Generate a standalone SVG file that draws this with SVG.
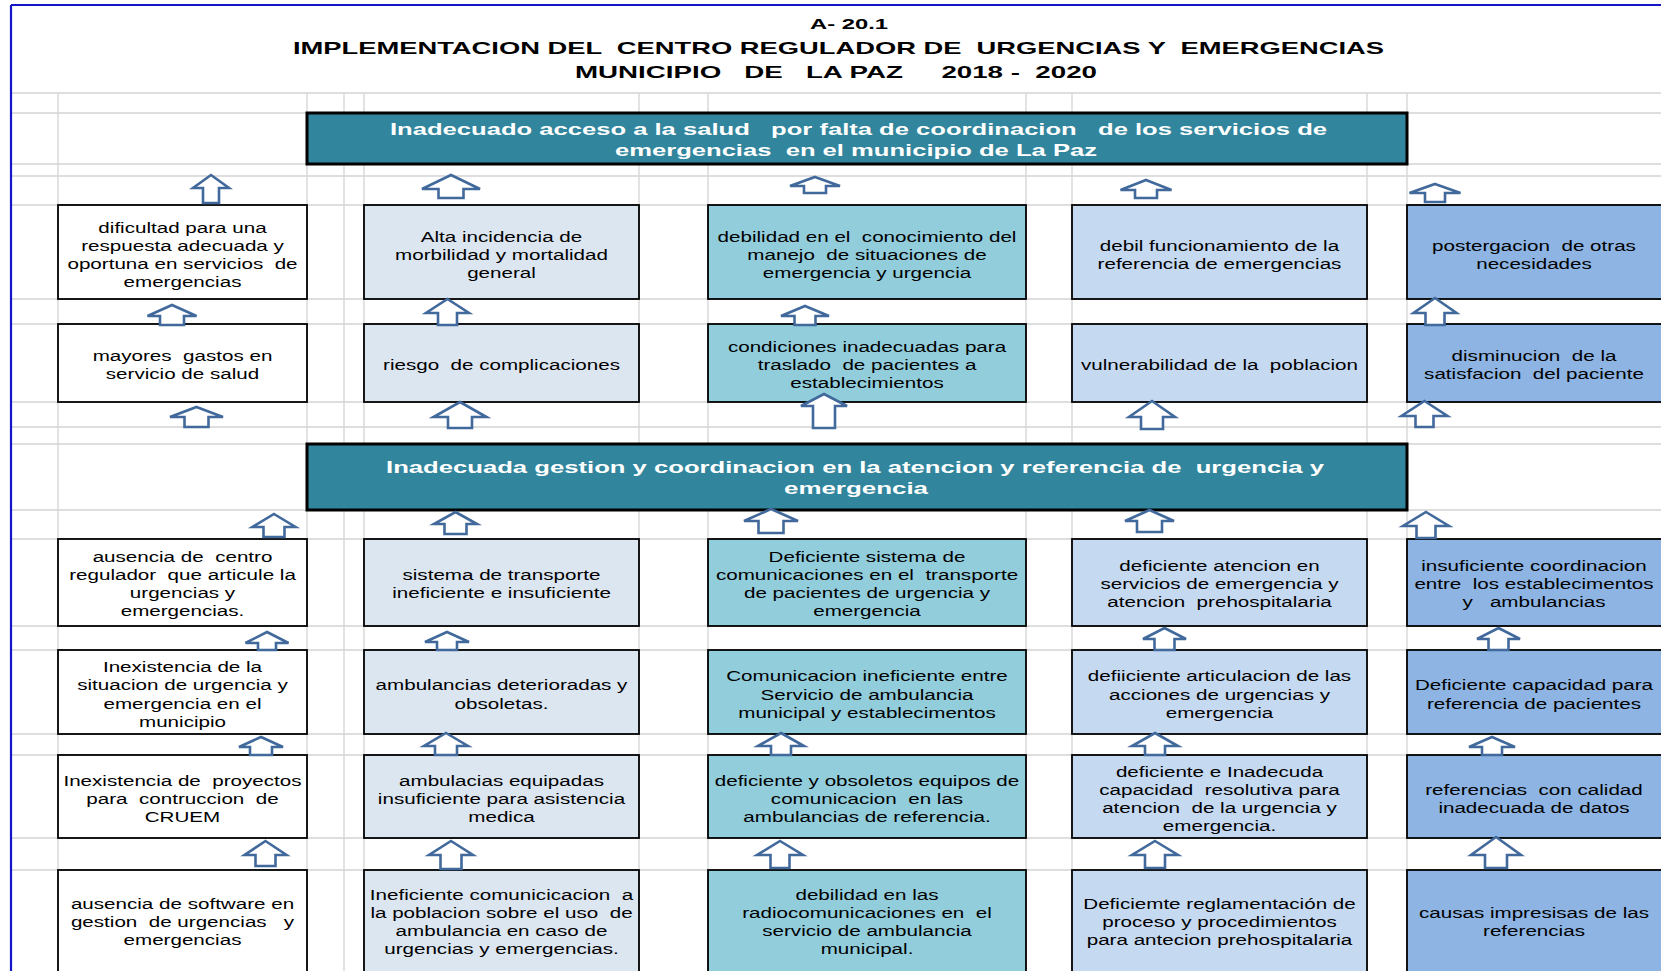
<svg xmlns="http://www.w3.org/2000/svg" width="1661" height="971" viewBox="0 0 1661 971">
<style>
.g{stroke:#d4d4d4;stroke-width:1.3;fill:none}
.b{stroke:#000;stroke-width:1.8}
.w{fill:#fff}.c2{fill:#dce6f1}.c3{fill:#92cddc}.c4{fill:#c5d9f1}.c5{fill:#8db4e2}
.ban{fill:#31859c;stroke:#000;stroke-width:3}
.bt{font-family:"Liberation Sans",Arial,sans-serif;font-size:15.5px;fill:#000;text-anchor:middle;white-space:pre}
.tt{font-family:"Liberation Sans",Arial,sans-serif;font-weight:bold;fill:#000;white-space:pre}
.wt{font-family:"Liberation Sans",Arial,sans-serif;font-weight:bold;font-size:17px;fill:#fff;white-space:pre}
.ar{fill:#fff;stroke:#41699c;stroke-width:2.6;stroke-linejoin:miter}
</style>
<rect width="1661" height="971" fill="#fff"/>
<g id="grid">
<path class="g" d="M11 93H1661M11 113H1661M11 164H1661M11 176H1661M11 205H1661M11 299H1661M11 324H1661M11 402H1661M11 427H1661M11 444H1661M11 510H1661M11 539H1661M11 626H1661M11 650H1661M11 734H1661M11 755H1661M11 838H1661M11 870H1661"/>
<path class="g" d="M58 93V971M307 93V971M344 93V971M364 93V971M639 93V971M708 93V971M1026 93V971M1072 93V971M1367 93V971M1407 93V971"/>
</g>
<g id="frame">
<path d="M11 5H1661M11 5V971" stroke="#1515c8" stroke-width="2.2" fill="none"/>
</g>
<g id="title">
<text class="tt" x="810" y="29" font-size="14" textLength="78" lengthAdjust="spacingAndGlyphs">A- 20.1</text>
<text class="tt" x="293" y="54" font-size="17" textLength="1091" lengthAdjust="spacingAndGlyphs">IMPLEMENTACION DEL  CENTRO REGULADOR DE  URGENCIAS Y  EMERGENCIAS</text>
<text class="tt" x="575" y="77.5" font-size="17" textLength="522" lengthAdjust="spacingAndGlyphs">MUNICIPIO   DE   LA PAZ     2018 -  2020</text>
</g>
<g id="banner-efecto">
<rect class="ban" x="307" y="113" width="1100" height="51"/>
<text class="wt" x="390" y="135" textLength="937" lengthAdjust="spacingAndGlyphs">Inadecuado acceso a la salud   por falta de coordinacion   de los servicios de</text>
<text class="wt" x="615" y="156" textLength="482" lengthAdjust="spacingAndGlyphs">emergencias  en el municipio de La Paz</text>
</g>
<g id="banner-problema">
<rect class="ban" x="307" y="444" width="1100" height="66"/>
<text class="wt" x="386" y="473" textLength="938" lengthAdjust="spacingAndGlyphs">Inadecuada gestion y coordinacion en la atencion y referencia de  urgencia y</text>
<text class="wt" x="784" y="494" textLength="144" lengthAdjust="spacingAndGlyphs">emergencia</text>
</g>
<g id="a1"><rect class="b w" x="58" y="205" width="249" height="94"/><text class="bt" transform="translate(182.5 1.5) scale(1.33 1)" xml:space="preserve"><tspan x="0" y="231.5">dificultad para una</tspan><tspan x="0" y="249.5">respuesta adecuada y</tspan><tspan x="0" y="267.5">oportuna en servicios  de</tspan><tspan x="0" y="285.5">emergencias</tspan></text></g>
<g id="a2"><rect class="b c2" x="364" y="205" width="275" height="94"/><text class="bt" transform="translate(501.5 1.5) scale(1.33 1)" xml:space="preserve"><tspan x="0" y="240.5">Alta incidencia de</tspan><tspan x="0" y="258.5">morbilidad y mortalidad</tspan><tspan x="0" y="276.5">general</tspan></text></g>
<g id="a3"><rect class="b c3" x="708" y="205" width="318" height="94"/><text class="bt" transform="translate(867 1.5) scale(1.33 1)" xml:space="preserve"><tspan x="0" y="240.5">debilidad en el  conocimiento del</tspan><tspan x="0" y="258.5">manejo  de situaciones de</tspan><tspan x="0" y="276.5">emergencia y urgencia</tspan></text></g>
<g id="a4"><rect class="b c4" x="1072" y="205" width="295" height="94"/><text class="bt" transform="translate(1219.5 1.5) scale(1.33 1)" xml:space="preserve"><tspan x="0" y="249.5">debil funcionamiento de la</tspan><tspan x="0" y="267.5">referencia de emergencias</tspan></text></g>
<g id="a5"><rect class="b c5" x="1407" y="205" width="270" height="94"/><text class="bt" transform="translate(1534 1.5) scale(1.33 1)" xml:space="preserve"><tspan x="0" y="249.5">postergacion  de otras</tspan><tspan x="0" y="267.5">necesidades</tspan></text></g>
<g id="b1"><rect class="b w" x="58" y="324" width="249" height="78"/><text class="bt" transform="translate(182.5 1.5) scale(1.33 1)" xml:space="preserve"><tspan x="0" y="359.5">mayores  gastos en</tspan><tspan x="0" y="377.5">servicio de salud</tspan></text></g>
<g id="b2"><rect class="b c2" x="364" y="324" width="275" height="78"/><text class="bt" transform="translate(501.5 1.5) scale(1.33 1)" xml:space="preserve"><tspan x="0" y="368.5">riesgo  de complicaciones</tspan></text></g>
<g id="b3"><rect class="b c3" x="708" y="324" width="318" height="78"/><text class="bt" transform="translate(867 1.5) scale(1.33 1)" xml:space="preserve"><tspan x="0" y="350.5">condiciones inadecuadas para</tspan><tspan x="0" y="368.5">traslado  de pacientes a</tspan><tspan x="0" y="386.5">establecimientos</tspan></text></g>
<g id="b4"><rect class="b c4" x="1072" y="324" width="295" height="78"/><text class="bt" transform="translate(1219.5 1.5) scale(1.33 1)" xml:space="preserve"><tspan x="0" y="368.5">vulnerabilidad de la  poblacion</tspan></text></g>
<g id="b5"><rect class="b c5" x="1407" y="324" width="270" height="78"/><text class="bt" transform="translate(1534 1.5) scale(1.33 1)" xml:space="preserve"><tspan x="0" y="359.5">disminucion  de la</tspan><tspan x="0" y="377.5">satisfacion  del paciente</tspan></text></g>
<g id="c1"><rect class="b w" x="58" y="539" width="249" height="87"/><text class="bt" transform="translate(182.5 1.5) scale(1.33 1)" xml:space="preserve"><tspan x="0" y="561">ausencia de  centro</tspan><tspan x="0" y="579">regulador  que articule la</tspan><tspan x="0" y="597">urgencias y</tspan><tspan x="0" y="615">emergencias.</tspan></text></g>
<g id="c2"><rect class="b c2" x="364" y="539" width="275" height="87"/><text class="bt" transform="translate(501.5 1.5) scale(1.33 1)" xml:space="preserve"><tspan x="0" y="579">sistema de transporte</tspan><tspan x="0" y="597">ineficiente e insuficiente</tspan></text></g>
<g id="c3"><rect class="b c3" x="708" y="539" width="318" height="87"/><text class="bt" transform="translate(867 1.5) scale(1.33 1)" xml:space="preserve"><tspan x="0" y="561">Deficiente sistema de</tspan><tspan x="0" y="579">comunicaciones en el  transporte</tspan><tspan x="0" y="597">de pacientes de urgencia y</tspan><tspan x="0" y="615">emergencia</tspan></text></g>
<g id="c4"><rect class="b c4" x="1072" y="539" width="295" height="87"/><text class="bt" transform="translate(1219.5 1.5) scale(1.33 1)" xml:space="preserve"><tspan x="0" y="570">deficiente atencion en</tspan><tspan x="0" y="588">servicios de emergencia y</tspan><tspan x="0" y="606">atencion  prehospitalaria</tspan></text></g>
<g id="c5"><rect class="b c5" x="1407" y="539" width="270" height="87"/><text class="bt" transform="translate(1534 1.5) scale(1.33 1)" xml:space="preserve"><tspan x="0" y="570">insuficiente coordinacion</tspan><tspan x="0" y="588">entre  los establecimentos</tspan><tspan x="0" y="606">y   ambulancias</tspan></text></g>
<g id="d1"><rect class="b w" x="58" y="650" width="249" height="84"/><text class="bt" transform="translate(182.5 1.5) scale(1.33 1)" xml:space="preserve"><tspan x="0" y="670.5">Inexistencia de la</tspan><tspan x="0" y="689">situacion de urgencia y</tspan><tspan x="0" y="707.5">emergencia en el</tspan><tspan x="0" y="726">municipio</tspan></text></g>
<g id="d2"><rect class="b c2" x="364" y="650" width="275" height="84"/><text class="bt" transform="translate(501.5 1.5) scale(1.33 1)" xml:space="preserve"><tspan x="0" y="689">ambulancias deterioradas y</tspan><tspan x="0" y="707.5">obsoletas.</tspan></text></g>
<g id="d3"><rect class="b c3" x="708" y="650" width="318" height="84"/><text class="bt" transform="translate(867 1.5) scale(1.33 1)" xml:space="preserve"><tspan x="0" y="680">Comunicacion ineficiente entre</tspan><tspan x="0" y="698.5">Servicio de ambulancia</tspan><tspan x="0" y="717">municipal y establecimentos</tspan></text></g>
<g id="d4"><rect class="b c4" x="1072" y="650" width="295" height="84"/><text class="bt" transform="translate(1219.5 1.5) scale(1.33 1)" xml:space="preserve"><tspan x="0" y="680">defiiciente articulacion de las</tspan><tspan x="0" y="698.5">acciones de urgencias y</tspan><tspan x="0" y="717">emergencia</tspan></text></g>
<g id="d5"><rect class="b c5" x="1407" y="650" width="270" height="84"/><text class="bt" transform="translate(1534 1.5) scale(1.33 1)" xml:space="preserve"><tspan x="0" y="689">Deficiente capacidad para</tspan><tspan x="0" y="707.5">referencia de pacientes</tspan></text></g>
<g id="e1"><rect class="b w" x="58" y="755" width="249" height="83"/><text class="bt" transform="translate(182.5 1.5) scale(1.33 1)" xml:space="preserve"><tspan x="0" y="785">Inexistencia de  proyectos</tspan><tspan x="0" y="803">para  contruccion  de</tspan><tspan x="0" y="821">CRUEM</tspan></text></g>
<g id="e2"><rect class="b c2" x="364" y="755" width="275" height="83"/><text class="bt" transform="translate(501.5 1.5) scale(1.33 1)" xml:space="preserve"><tspan x="0" y="785">ambulacias equipadas</tspan><tspan x="0" y="803">insuficiente para asistencia</tspan><tspan x="0" y="821">medica</tspan></text></g>
<g id="e3"><rect class="b c3" x="708" y="755" width="318" height="83"/><text class="bt" transform="translate(867 1.5) scale(1.33 1)" xml:space="preserve"><tspan x="0" y="785">deficiente y obsoletos equipos de</tspan><tspan x="0" y="803">comunicacion  en las</tspan><tspan x="0" y="821">ambulancias de referencia.</tspan></text></g>
<g id="e4"><rect class="b c4" x="1072" y="755" width="295" height="83"/><text class="bt" transform="translate(1219.5 1.5) scale(1.33 1)" xml:space="preserve"><tspan x="0" y="776">deficiente e Inadecuda</tspan><tspan x="0" y="794">capacidad  resolutiva para</tspan><tspan x="0" y="812">atencion  de la urgencia y</tspan><tspan x="0" y="830">emergencia.</tspan></text></g>
<g id="e5"><rect class="b c5" x="1407" y="755" width="270" height="83"/><text class="bt" transform="translate(1534 1.5) scale(1.33 1)" xml:space="preserve"><tspan x="0" y="794">referencias  con calidad</tspan><tspan x="0" y="812">inadecuada de datos</tspan></text></g>
<g id="f1"><rect class="b w" x="58" y="870" width="249" height="115"/><text class="bt" transform="translate(182.5 1.5) scale(1.33 1)" xml:space="preserve"><tspan x="0" y="908">ausencia de software en</tspan><tspan x="0" y="926">gestion  de urgencias   y</tspan><tspan x="0" y="944">emergencias</tspan></text></g>
<g id="f2"><rect class="b c2" x="364" y="870" width="275" height="115"/><text class="bt" transform="translate(501.5 1.5) scale(1.33 1)" xml:space="preserve"><tspan x="0" y="899">Ineficiente comunicicacion  a</tspan><tspan x="0" y="917">la poblacion sobre el uso  de</tspan><tspan x="0" y="935">ambulancia en caso de</tspan><tspan x="0" y="953">urgencias y emergencias.</tspan></text></g>
<g id="f3"><rect class="b c3" x="708" y="870" width="318" height="115"/><text class="bt" transform="translate(867 1.5) scale(1.33 1)" xml:space="preserve"><tspan x="0" y="899">debilidad en las</tspan><tspan x="0" y="917">radiocomunicaciones en  el</tspan><tspan x="0" y="935">servicio de ambulancia</tspan><tspan x="0" y="953">municipal.</tspan></text></g>
<g id="f4"><rect class="b c4" x="1072" y="870" width="295" height="115"/><text class="bt" transform="translate(1219.5 1.5) scale(1.33 1)" xml:space="preserve"><tspan x="0" y="908">Deficiemte reglamentación de</tspan><tspan x="0" y="926">proceso y procedimientos</tspan><tspan x="0" y="944">para antecion prehospitalaria</tspan></text></g>
<g id="f5"><rect class="b c5" x="1407" y="870" width="270" height="115"/><text class="bt" transform="translate(1534 1.5) scale(1.33 1)" xml:space="preserve"><tspan x="0" y="917">causas impresisas de las</tspan><tspan x="0" y="935">referencias</tspan></text></g>
<g id="connectors">
<path class="ar" d="M211 175L229 188L219 188L219 203L203 203L203 188L193 188Z"/>
<path class="ar" d="M451 175L480 189L463.5 189L463.5 198L438.5 198L438.5 189L422 189Z"/>
<path class="ar" d="M815 177L840 186L826 186L826 193L804 193L804 186L790 186Z"/>
<path class="ar" d="M1146 180L1171.5 190L1157 190L1157 198L1135 198L1135 190L1120.5 190Z"/>
<path class="ar" d="M1435 184L1460.5 193L1445 193L1445 202L1425 202L1425 193L1409.5 193Z"/>
<path class="ar" d="M172 305L196.5 316L184 316L184 325L160 325L160 316L147.5 316Z"/>
<path class="ar" d="M447.5 299L469 313L457 313L457 325L438 325L438 313L426 313Z"/>
<path class="ar" d="M805 306L829 316L815.5 316L815.5 325L794.5 325L794.5 316L781 316Z"/>
<path class="ar" d="M1435 298L1456.5 313L1444.5 313L1444.5 325L1425.5 325L1425.5 313L1413.5 313Z"/>
<path class="ar" d="M196.5 407L223 417L208.5 417L208.5 427L184.5 427L184.5 417L170 417Z"/>
<path class="ar" d="M460 402L486.5 417L472 417L472 428L448 428L448 417L433.5 417Z"/>
<path class="ar" d="M824 394L847 406L835 406L835 428L813 428L813 406L801 406Z"/>
<path class="ar" d="M1152 401L1175 417L1163 417L1163 429L1141 429L1141 417L1129 417Z"/>
<path class="ar" d="M1424.5 401L1447.5 416L1433.5 416L1433.5 427L1415.5 427L1415.5 416L1401.5 416Z"/>
<path class="ar" d="M274 514L295.5 527L284.5 527L284.5 537L263.5 537L263.5 527L252.5 527Z"/>
<path class="ar" d="M455.5 512L477 524L466.5 524L466.5 534L444.5 534L444.5 524L434 524Z"/>
<path class="ar" d="M771 509L798 521L783.5 521L783.5 533L758.5 533L758.5 521L744 521Z"/>
<path class="ar" d="M1149.5 510L1174 521L1162 521L1162 532L1137 532L1137 521L1125 521Z"/>
<path class="ar" d="M1426 512L1449 526L1435.5 526L1435.5 538L1416.5 538L1416.5 526L1403 526Z"/>
<path class="ar" d="M267 632L288.5 643L276 643L276 650L258 650L258 643L245.5 643Z"/>
<path class="ar" d="M447 632L469 642L457 642L457 650L437 650L437 642L425 642Z"/>
<path class="ar" d="M1164.5 628L1186 639L1174.5 639L1174.5 650L1154.5 650L1154.5 639L1143 639Z"/>
<path class="ar" d="M1498.5 628L1520 639L1508.5 639L1508.5 650L1488.5 650L1488.5 639L1477 639Z"/>
<path class="ar" d="M261 737L283 747L272 747L272 755L250 755L250 747L239 747Z"/>
<path class="ar" d="M446 733L468 746L457 746L457 755L435 755L435 746L424 746Z"/>
<path class="ar" d="M781 733L804 746L791 746L791 755L771 755L771 746L758 746Z"/>
<path class="ar" d="M1155 733L1178 746L1165 746L1165 755L1145 755L1145 746L1132 746Z"/>
<path class="ar" d="M1492 737L1515 747L1502 747L1502 755L1482 755L1482 747L1469 747Z"/>
<path class="ar" d="M265.5 841L286.5 855L275.5 855L275.5 866L255.5 866L255.5 855L244.5 855Z"/>
<path class="ar" d="M451 841L473 855L461.5 855L461.5 869L440.5 869L440.5 855L429 855Z"/>
<path class="ar" d="M780 841L803 855L789.5 855L789.5 868L770.5 868L770.5 855L757 855Z"/>
<path class="ar" d="M1155 841L1178 855L1165 855L1165 868L1145 868L1145 855L1132 855Z"/>
<path class="ar" d="M1496 837L1521 855L1507 855L1507 868L1485 868L1485 855L1471 855Z"/>
</g>
</svg>
